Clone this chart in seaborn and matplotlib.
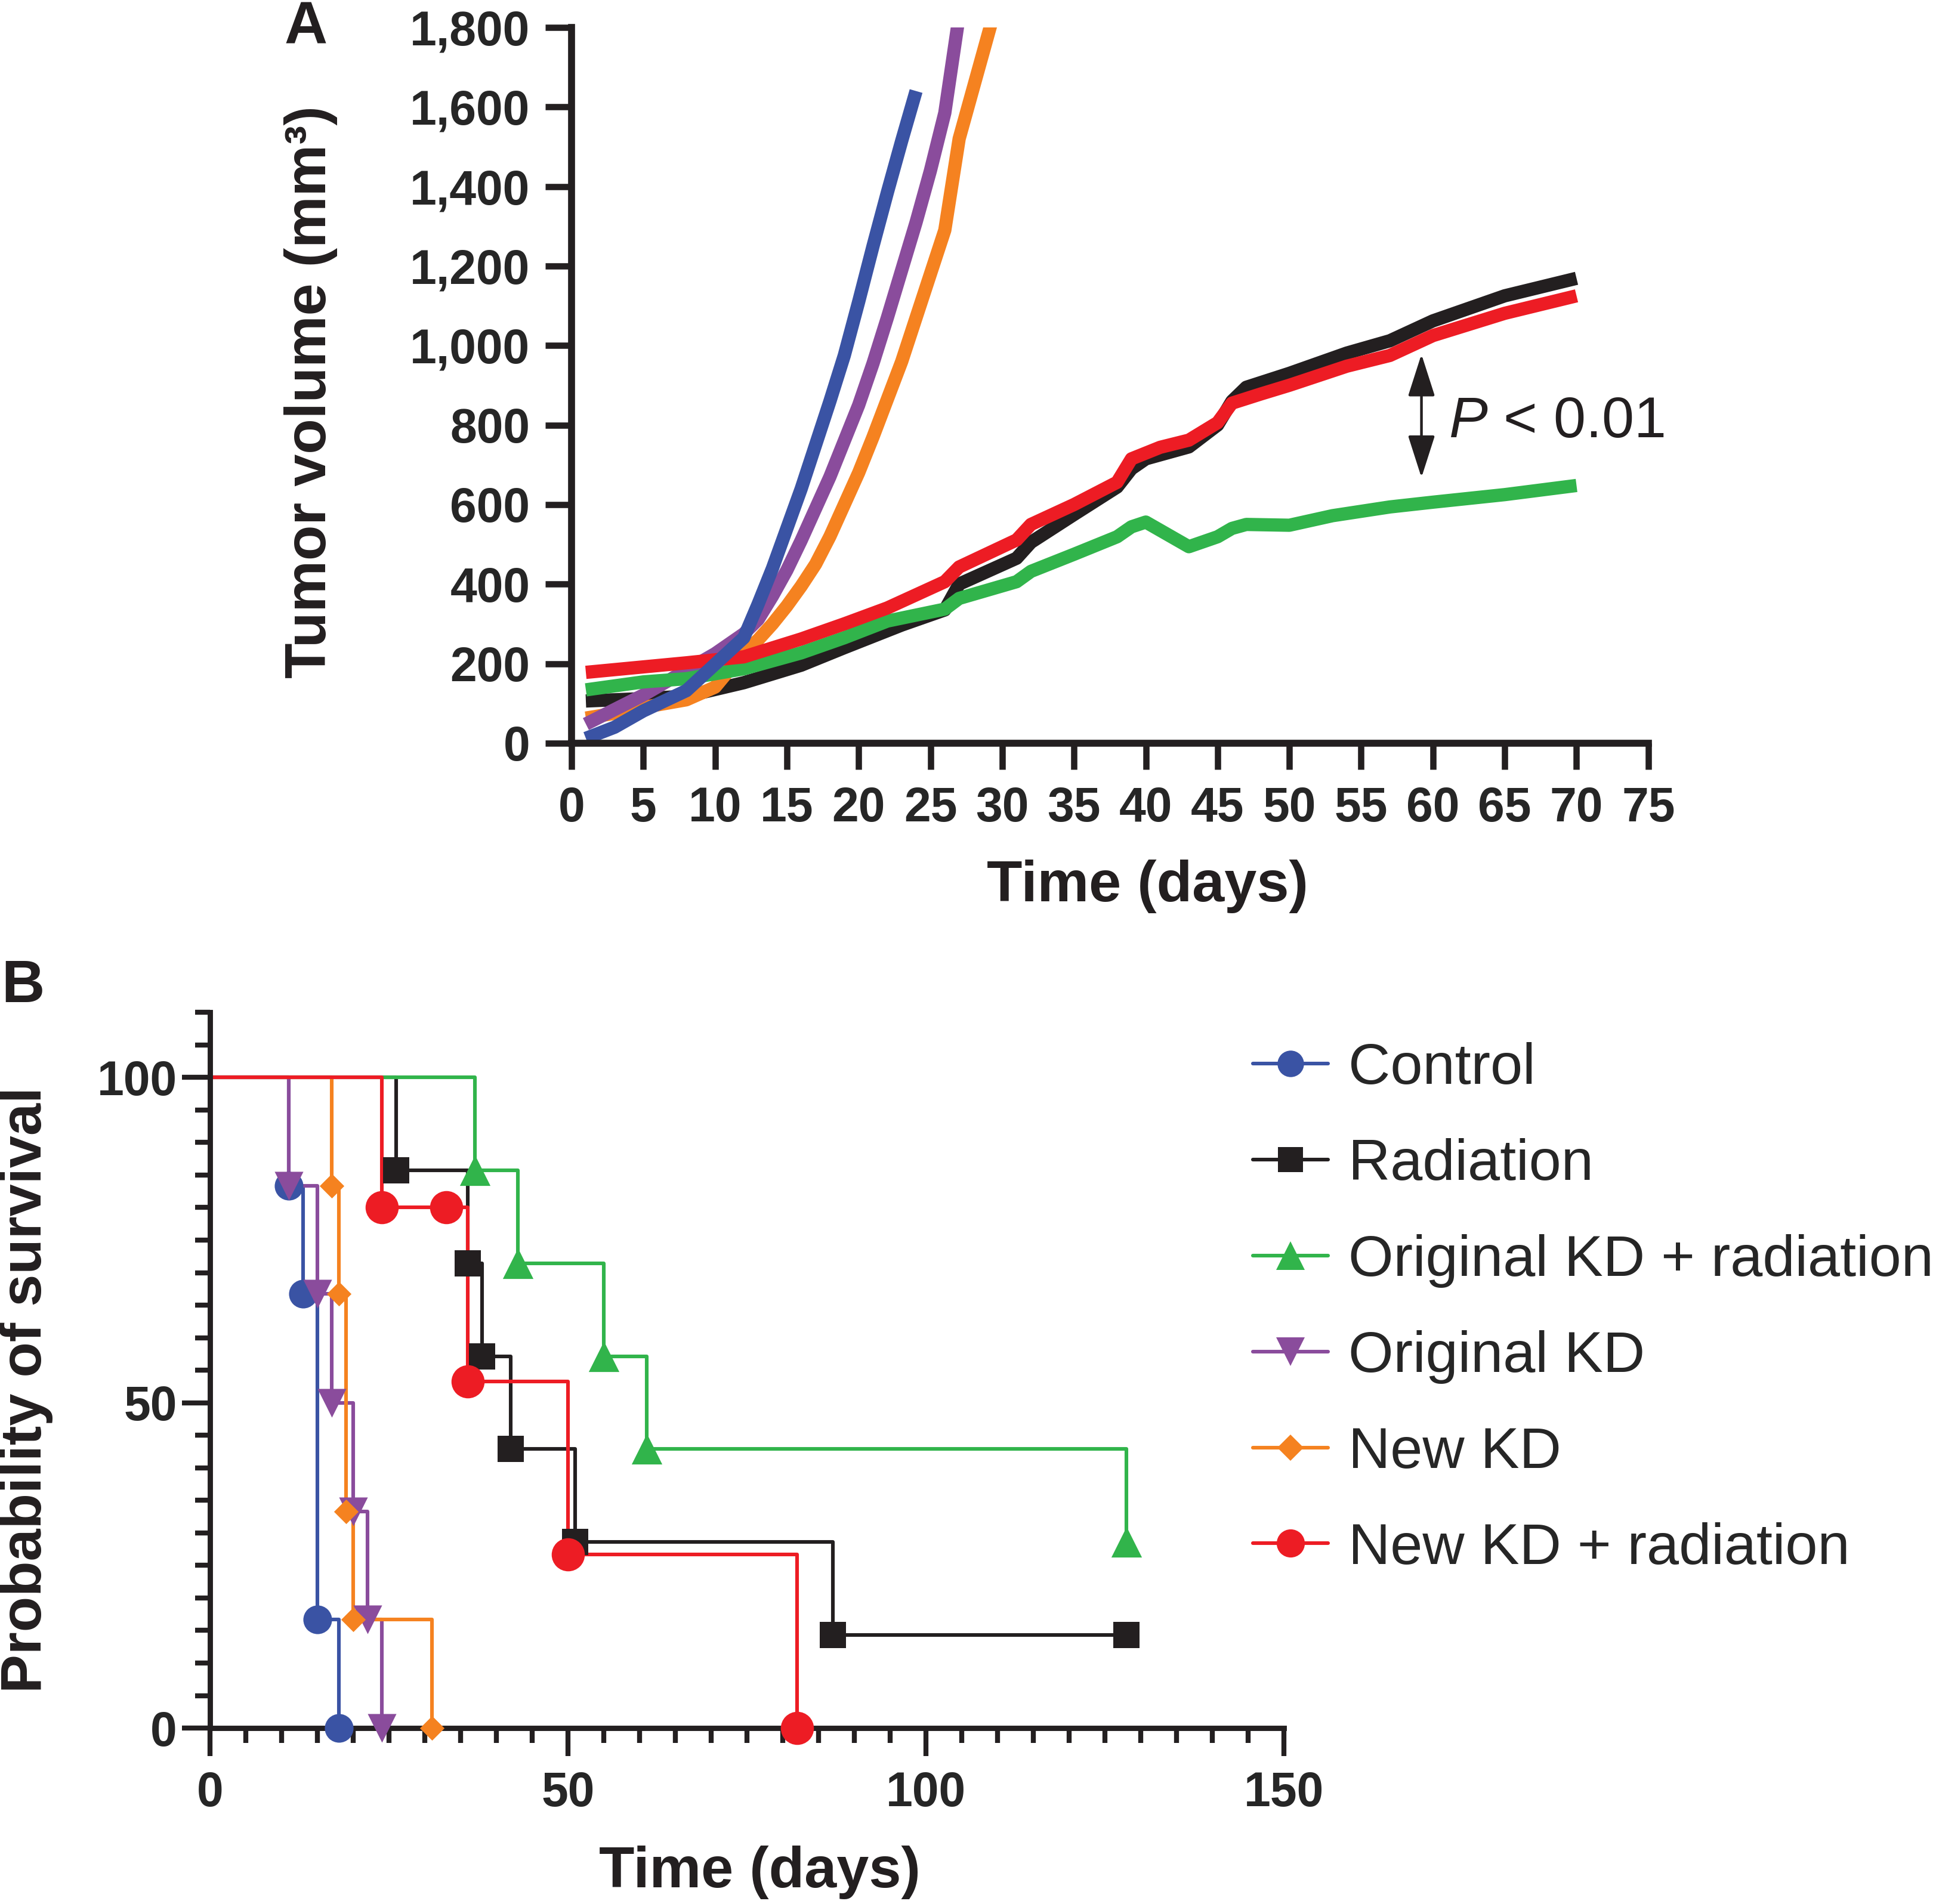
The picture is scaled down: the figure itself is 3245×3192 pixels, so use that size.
import matplotlib
matplotlib.use('Agg')
import matplotlib.pyplot as plt
from matplotlib.lines import Line2D
from matplotlib.ticker import MultipleLocator, FuncFormatter
import seaborn as sn

# ---- panel A: tumour volume (mm3) vs day ----
control_days = [1, 3, 5, 8, 12, 13, 14, 15, 16, 17, 18, 19, 20, 21, 22, 23, 24]
control_vol = [12, 40, 81, 132, 265, 350, 440, 540, 640, 750, 860, 975, 1110, 1250, 1385, 1515, 1640]

radiation_days = [1, 5, 8, 12, 16, 19, 23, 26, 27, 31, 32, 35, 38, 39, 40, 43, 45, 46, 47, 50, 54, 57, 60, 65, 70]
radiation_vol = [106, 112, 118, 152, 196, 240, 297, 335, 400, 465, 505, 575, 644, 690, 715, 745, 800, 860, 895,
                 930, 981, 1012, 1062, 1125, 1169]

okd_rad_days = [1, 5, 8, 12, 16, 19, 22, 26, 27, 31, 32, 35, 38, 39, 40, 43, 45, 46, 47, 50, 53, 57, 60, 65, 70]
okd_rad_vol = [134, 154, 162, 187, 227, 265, 307, 337, 364, 406, 432, 475, 519, 544, 556, 494, 519, 540, 550,
               548, 572, 594, 606, 625, 648]

okd_days = [1, 5, 10, 12, 13, 14, 15, 16, 17, 18, 19, 20, 21, 22, 23, 24, 25, 26, 27]
okd_vol = [48, 121, 225, 275, 311, 370, 435, 510, 590, 670, 760, 850, 955, 1070, 1190, 1310, 1440, 1585, 1830]

nkd_days = [1, 3, 5, 8, 10, 12, 13, 14, 15, 16, 17, 18, 19, 20, 21, 22, 23, 24, 25, 26, 27, 28, 29, 30]
nkd_vol = [63, 75, 90, 109, 141, 228, 260, 300, 345, 395, 450, 520, 600, 680, 770, 865, 960, 1070, 1180,
           1290, 1520, 1650, 1780, 1910]

nkd_rad_days = [1, 8, 12, 16, 19, 22, 26, 27, 31, 32, 35, 38, 39, 41, 43, 45, 46, 48, 50, 54, 57, 60, 65, 70]
nkd_rad_vol = [178, 202, 217, 262, 300, 340, 406, 443, 511, 550, 600, 656, 715, 744, 762, 806, 855, 878, 900,
               948, 975, 1025, 1081, 1125]

# ---- panel B: survival (%) step points ----
control_t = [0, 11, 13, 15, 18]
control_s = [100, 83.3, 66.7, 16.7, 0]
radiation_t = [0, 26, 36, 38, 42, 51, 87, 128]
radiation_s = [100, 85.7, 71.4, 57.1, 42.9, 28.6, 14.3, 14.3]
okd_rad_t = [0, 37, 43, 55, 61, 128]
okd_rad_s = [100, 85.7, 71.4, 57.1, 42.9, 28.6]
okd_t = [0, 11, 15, 17, 20, 22, 24]
okd_s = [100, 83.3, 66.7, 50, 33.3, 16.7, 0]
nkd_t = [0, 17, 18, 19, 20, 31]
nkd_s = [100, 83.3, 66.7, 33.3, 16.7, 0]
nkd_rad_t = [0, 24, 33, 36, 50, 82]
nkd_rad_s = [100, 80, 80, 53.3, 26.7, 0]

labels = ['Control', 'Radiation', 'Original KD + radiation', 'Original KD', 'New KD', 'New KD + radiation']
colors = ['#3A53A4', '#231F20', '#31B44B', '#8A4C9C', '#F58220', '#ED1C24']
markers = ['o', 's', '^', 'v', 'D', 'o']

sn.set_style('ticks')
plt.rcParams['font.family'] = ['Liberation Sans', 'DejaVu Sans']
plt.rcParams['font.weight'] = 'bold'
plt.rcParams['mathtext.fontset'] = 'custom'
plt.rcParams['mathtext.it'] = 'Liberation Sans:italic:normal'
plt.rcParams['mathtext.rm'] = 'Liberation Sans:normal'

fig = plt.figure(figsize=(16.225, 15.96), dpi=200)
ax1 = fig.add_axes([0.2952, 0.6097, 0.5562, 0.3759])
ax2 = fig.add_axes([0.1085, 0.0924, 0.5547, 0.3759])
ink = '#231F20'

# panel A lines, drawn in the stacking order of the original
curves = [
    (radiation_days, radiation_vol, colors[1], True),
    (nkd_days, nkd_vol, colors[4], True),
    (okd_days, okd_vol, colors[3], True),
    (okd_rad_days, okd_rad_vol, colors[2], True),
    (nkd_rad_days, nkd_rad_vol, colors[5], True),
    (control_days, control_vol, colors[0], False),
]
for d, v, c, clip in curves:
    sn.lineplot(x=d, y=v, ax=ax1, color=c, lw=8, solid_capstyle='butt',
                solid_joinstyle='round', clip_on=clip)

ax1.set_xlim(0, 75)
ax1.set_ylim(0, 1800)
ax1.xaxis.set_major_locator(MultipleLocator(5))
ax1.yaxis.set_major_locator(MultipleLocator(200))
ax1.yaxis.set_major_formatter(FuncFormatter(lambda v, p: f'{int(v):,}'))
sn.despine(ax=ax1)
for s in ['left', 'bottom']:
    ax1.spines[s].set_linewidth(4.2)
    ax1.spines[s].set_color(ink)
ax1.tick_params(axis='both', direction='out', length=16, width=3.8, color=ink, labelsize=29)
ax1.tick_params(axis='x', pad=10)
ax1.tick_params(axis='y', pad=9)
ax1.set_xlabel('')
ax1.set_ylabel('')

ax1.annotate('', xy=(59.2, 978), xytext=(59.2, 668),
             arrowprops=dict(arrowstyle='<|-|>,head_length=1.0,head_width=0.32', mutation_scale=22,
                             lw=1.6, color=ink, shrinkA=0, shrinkB=0))
ax1.text(61.1, 807, r'$P$ < 0.01', fontsize=35, fontweight='normal', va='center', ha='left', color=ink)

# panel B: survival steps
surv = [(control_t, control_s), (radiation_t, radiation_s), (okd_rad_t, okd_rad_s),
        (okd_t, okd_s), (nkd_t, nkd_s), (nkd_rad_t, nkd_rad_s)]
sizes = [300, 256, 340, 300, 110, 400]
for (t, s), c in zip(surv, colors):
    sn.lineplot(x=t, y=s, ax=ax2, color=c, lw=2.2, drawstyle='steps-post')
for (t, s), c, m, sz in zip(surv, colors, markers, sizes):
    sn.scatterplot(x=t[1:], y=s[1:], ax=ax2, color=c, marker=m, s=sz, linewidth=0, zorder=4, clip_on=False)

ax2.set_xlim(0, 150)
ax2.set_ylim(0, 110)
ax2.xaxis.set_major_locator(MultipleLocator(50))
ax2.xaxis.set_minor_locator(MultipleLocator(5))
ax2.yaxis.set_major_locator(MultipleLocator(50))
ax2.yaxis.set_minor_locator(MultipleLocator(5))
sn.despine(ax=ax2)
for s in ['left', 'bottom']:
    ax2.spines[s].set_linewidth(3.2)
    ax2.spines[s].set_color(ink)
ax2.tick_params(axis='both', which='major', direction='out', length=17, width=3.0, color=ink, labelsize=29)
ax2.tick_params(axis='both', which='minor', direction='out', length=9, width=3.0, color=ink)
ax2.tick_params(axis='x', which='major', pad=9)
ax2.tick_params(axis='y', which='major', pad=3)
ax2.set_xlabel('')
ax2.set_ylabel('')

handles = [Line2D([0], [0], color=c, lw=2.2, marker=m, markersize=ms, markeredgewidth=0)
           for c, m, ms in zip(colors, markers, [16, 15, 17, 17, 11, 17])]
ax2.legend(handles, labels, loc='upper left', bbox_to_anchor=(0.6471, 0.4528), bbox_transform=fig.transFigure,
           frameon=False, prop={'size': 35, 'weight': 'normal'}, handlelength=1.3, handletextpad=0.35,
           labelspacing=0.73, borderpad=0, borderaxespad=0)

# panel letters and axis titles
fig.text(0.1581, 0.9771, 'A', fontsize=36, ha='center', va='baseline', color=ink)
fig.text(0.0117, 0.4737, 'B', fontsize=36, ha='center', va='baseline', color=ink)
fig.text(0.1606, 0.7942, 'Tumor volume (mm³)', fontsize=35, rotation=90, ha='center', va='center', color=ink)
fig.text(0.5926, 0.5345, 'Time (days)', fontsize=35, ha='center', va='center', color=ink)
fig.text(0.0136, 0.2701, 'Probability of survival', fontsize=35, rotation=90, ha='center', va='center', color=ink)
fig.text(0.3923, 0.0166, 'Time (days)', fontsize=35, ha='center', va='center', color=ink)

fig.savefig('out.png', dpi=200)
